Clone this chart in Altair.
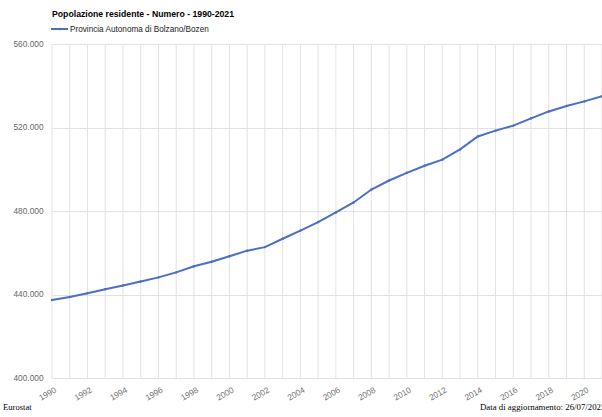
import altair as alt
import pandas as pd

# Resident population, Provincia Autonoma di Bolzano/Bozen, 1990-2021
years = list(range(1990, 2022))
population = [
    437400, 438800, 440600, 442500, 444300, 446200, 448200, 450600,
    453500, 455700, 458300, 461000, 462700, 466700, 470600, 474700,
    479300, 484100, 490300, 494600, 498300, 501700, 504600, 509500,
    515700, 518500, 520900, 524400, 527700, 530300, 532500, 535000,
]
series_name = "Provincia Autonoma di Bolzano/Bozen"
chart_title = "Popolazione residente - Numero - 1990-2021"
source_text = "Eurostat"
updated_text = "Data di aggiornamento: 26/07/2022"
y_ticks = [400000, 440000, 480000, 520000, 560000]
x_label_years = years[::2]

df = pd.DataFrame({"anno": years, "valore": population, "serie": series_name})
grid_df = pd.DataFrame({"anno": years})

LINE_COLOR = "#4a6fc4"
GRID = "#e2e2e2"
FONT = "Liberation Sans"
AXIS_SIZE = 8.3

x_scale = alt.Scale(domain=[1990, 2021], nice=False, zero=False)
y_scale = alt.Scale(domain=[400000, 560000], nice=False, zero=False)

x_axis = alt.Axis(
    values=x_label_years,
    tickCount=len(years),
    format="d",
    title=None,
    grid=False,
    domain=False,
    ticks=False,
    labelAngle=330,
    labelAlign="right",
    labelBaseline="top",
    labelPadding=7,
    labelOffset=1,
    labelFont=FONT,
    labelFontSize=AXIS_SIZE,
    labelColor="#707070",
    labelOverlap=False,
    labelFlush=False,
)
y_axis = alt.Axis(
    values=y_ticks,
    labelExpr="replace(format(datum.value, ',.0f'), ',', '.')",
    title=None,
    grid=True,
    gridColor=GRID,
    domain=False,
    ticks=False,
    labelPadding=9,
    labelFont=FONT,
    labelFontSize=AXIS_SIZE,
    labelColor="#666666",
)

# one vertical gridline per year, carrying the year axis
year_grid = alt.Chart(grid_df).mark_rule(color=GRID, strokeWidth=1).encode(
    x=alt.X("anno:Q", scale=x_scale, axis=x_axis)
)

line = alt.Chart(df).mark_line(color=LINE_COLOR, strokeWidth=2).encode(
    x=alt.X("anno:Q", scale=x_scale, axis=x_axis),
    y=alt.Y("valore:Q", scale=y_scale, axis=y_axis),
)
dots = alt.Chart(df).mark_point(
    color=LINE_COLOR, filled=True, size=6, opacity=1
).encode(x="anno:Q", y="valore:Q")

one = pd.DataFrame({"k": [0]})

title = alt.Chart(one).mark_text(
    text=chart_title, font=FONT, fontSize=8.7, fontWeight="bold",
    color="#000000", align="left", baseline="alphabetic",
).encode(x=alt.value(0), y=alt.value(-27))

legend_line = alt.Chart(one).mark_rule(color=LINE_COLOR, strokeWidth=2).encode(
    x=alt.value(-1), x2=alt.value(16), y=alt.value(-15)
)
legend_dot = alt.Chart(one).mark_point(
    color=LINE_COLOR, filled=True, size=6, opacity=1
).encode(x=alt.value(7.5), y=alt.value(-15))
legend_text = alt.Chart(one).mark_text(
    text=series_name, font=FONT, fontSize=8.2, color="#222222",
    align="left", baseline="alphabetic",
).encode(x=alt.value(18), y=alt.value(-12))

source = alt.Chart(one).mark_text(
    text=source_text, font="Liberation Serif", fontSize=8.6, color="#000000",
    align="left", baseline="alphabetic",
).encode(x=alt.value(-49), y=alt.value(366))
updated = alt.Chart(one).mark_text(
    text=updated_text, font="Liberation Serif", fontSize=8.8, color="#000000",
    align="left", baseline="alphabetic",
).encode(x=alt.value(428), y=alt.value(366))

chart = alt.layer(
    year_grid, line, dots, title, legend_line, legend_dot, legend_text, source, updated
).properties(
    width=550,
    height=334,
    autosize=alt.AutoSizeParams(type="none"),
    padding={"left": 52, "top": 44, "right": 0, "bottom": 39},
    background="#ffffff",
).configure_view(stroke=None)

chart.save("out.html", embed_options={"renderer": "svg", "actions": False})
